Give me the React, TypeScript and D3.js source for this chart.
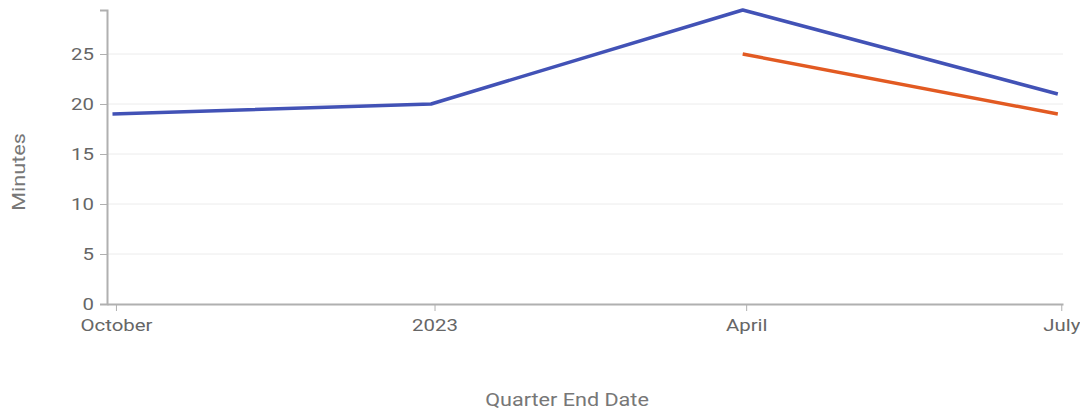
import React, { useEffect, useRef } from "react";
import * as d3 from "d3";

const blueDates = ["2022-09-30", "2022-12-31", "2023-03-31", "2023-06-30"];
const blueValues = [19, 20, 29.4, 21];
const orangeDates = ["2023-03-31", "2023-06-30"];
const orangeValues = [25, 19];
const yTicks = [0, 5, 10, 15, 20, 25];
const xTickLabels = ["October", "2023", "April", "July"];

const parse = (s: string) => {
  const [y, m, d] = s.split("-").map(Number);
  return new Date(y, m - 1, d);
};

const SX = 1.2;

export default function App() {
  const ref = useRef<SVGSVGElement>(null);
  useEffect(() => {
    const svg = d3.select(ref.current);
    svg.selectAll("*").remove();
    const left = 107, right = 1063, top = 10, bottom = 304;
    const font = "Roboto, sans-serif";
    const x = d3
      .scaleTime()
      .domain([new Date(2022, 8, 28, 10), new Date(2023, 6, 1, 12)])
      .range([left, right]);
    const yMax = d3.max(blueValues)!;
    const y = d3.scaleLinear().domain([0, yMax]).range([bottom, top]);

    // grid
    svg
      .append("g")
      .selectAll("line")
      .data(yTicks.filter((t) => t > 0))
      .join("line")
      .attr("x1", left)
      .attr("x2", right)
      .attr("y1", (d) => y(d))
      .attr("y2", (d) => y(d))
      .attr("stroke", "#ececec")
      .attr("stroke-width", 1);

    // y axis
    const yAxis = d3
      .axisLeft(y)
      .tickValues(yTicks)
      .tickSize(7)
      .tickPadding(4)
      .tickSizeOuter(7);
    const gy = svg.append("g").attr("transform", `translate(${left},0)`).call(yAxis);
    gy.select(".domain").attr("stroke", "#b0b0b0").attr("stroke-width", 2);
    gy.selectAll(".tick line").attr("stroke", "#b0b0b0").attr("stroke-width", 1);
    gy.selectAll(".tick text")
      .attr("font-family", font)
      .attr("font-size", 17)
      .attr("fill", "#666")
      .attr("x", -13 / SX)
      .attr("transform", `scale(${SX},1)`);

    // x axis
    const xTickDates = [new Date(2022, 9, 1), new Date(2023, 0, 1), new Date(2023, 3, 1), new Date(2023, 6, 1)];
    const xAxis = d3
      .axisBottom(x)
      .tickValues(xTickDates)
      .tickFormat((_, i) => xTickLabels[i])
      .tickSize(7)
      .tickSizeOuter(0)
      .tickPadding(8);
    const gx = svg.append("g").attr("transform", `translate(0,${bottom})`).call(xAxis);
    gx.select(".domain").attr("stroke", "#b0b0b0").attr("stroke-width", 2);
    gx.selectAll(".tick line").attr("stroke", "#b0b0b0").attr("stroke-width", 1);
    gx.selectAll(".tick text")
      .attr("font-family", font)
      .attr("font-size", 17)
      .attr("fill", "#666")
      .attr("transform", `scale(${SX},1)`);

    const line = d3
      .line<[Date, number]>()
      .x((d) => x(d[0]))
      .y((d) => y(d[1]));

    const blue: [Date, number][] = blueDates.map((d, i) => [parse(d), blueValues[i]]);
    const orange: [Date, number][] = orangeDates.map((d, i) => [parse(d), orangeValues[i]]);

    svg
      .append("path")
      .datum(blue)
      .attr("d", line)
      .attr("fill", "none")
      .attr("stroke", "#4252b6")
      .attr("stroke-width", 3.5)
      .attr("stroke-linejoin", "round");
    svg
      .append("path")
      .datum(orange)
      .attr("d", line)
      .attr("fill", "none")
      .attr("stroke", "#e25a22")
      .attr("stroke-width", 3.5)
      .attr("stroke-linejoin", "round");

    svg
      .append("text")
      .attr("transform", `translate(25,172) rotate(-90) scale(${SX},1)`)
      .attr("text-anchor", "middle")
      .attr("font-family", font)
      .attr("font-size", 18)
      .attr("fill", "#777")
      .text("Minutes");
    svg
      .append("text")
      .attr("transform", `translate(567,406) scale(${SX},1)`)
      .attr("text-anchor", "middle")
      .attr("font-family", font)
      .attr("font-size", 18)
      .attr("fill", "#777")
      .text("Quarter End Date");
  }, []);
  return (
    <svg
      ref={ref}
      width={1080}
      height={413}
      style={{ position: "absolute", left: 0, top: 0, background: "#fff" }}
    />
  );
}
